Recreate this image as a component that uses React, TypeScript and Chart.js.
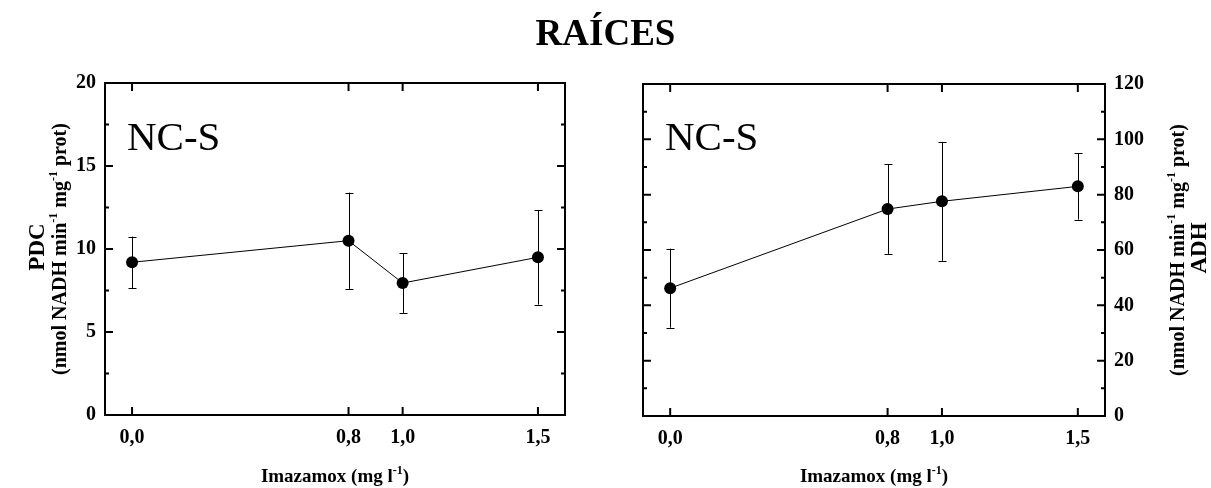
import React, { useEffect, useRef } from 'react';
import { Chart, registerables } from 'chart.js';
Chart.register(...registerables);

// ---- data ----
const doses = [0, 0.8, 1.0, 1.5];
const doseLabels = ['0,0', '0,8', '1,0', '1,5'];
const pdcMean = [9.2, 10.5, 7.95, 9.5];
const pdcErr = [1.55, 2.9, 1.8, 2.85];
const adhMean = [46.2, 74.8, 77.6, 83.0];
const adhErr = [14.3, 16.2, 21.5, 12.0];
const pdcTicks = [0, 5, 10, 15, 20];
const adhTicks = [0, 20, 40, 60, 80, 100, 120];
const titleText = 'RAÍCES';
const panelLabel = 'NC-S';
const xTitleParts = [{ t: 'Imazamox (mg l' }, { t: '-1', sup: true }, { t: ')' }];
const unitParts = [
  { t: '(nmol NADH min' }, { t: '-1', sup: true }, { t: ' mg' }, { t: '-1', sup: true }, { t: ' prot)' },
];

const FONT = '"Liberation Serif", "Times New Roman", serif';

type Part = { t: string; sup?: boolean };

function drawRich(ctx: CanvasRenderingContext2D, parts: Part[], size: number, cx: number, cy: number, rotate: boolean) {
  ctx.save();
  ctx.translate(cx, cy);
  if (rotate) ctx.rotate(-Math.PI / 2);
  const supSize = Math.round(size * 0.62);
  const widths = parts.map((p) => {
    ctx.font = `bold ${p.sup ? supSize : size}px ${FONT}`;
    return ctx.measureText(p.t).width;
  });
  const total = widths.reduce((a, b) => a + b, 0);
  let x = -total / 2;
  const base = size * 0.33;
  ctx.textAlign = 'left';
  ctx.textBaseline = 'alphabetic';
  ctx.fillStyle = '#000';
  parts.forEach((p, i) => {
    ctx.font = `bold ${p.sup ? supSize : size}px ${FONT}`;
    ctx.fillText(p.t, x, p.sup ? base - size * 0.42 : base);
    x += widths[i];
  });
  ctx.restore();
}

type PanelOpts = {
  side: 'left' | 'right';
  mean: number[];
  err: number[];
  yMax: number;
  yTicks: number[];
  minorStep: number;
  name: string;
};

function makeConfig(o: PanelOpts): any {
  const isLeft = o.side === 'left';
  const panelPlugin = {
    id: 'panel',
    beforeDatasetsDraw(chart: any) {
      const ctx = chart.ctx as CanvasRenderingContext2D;
      const xs = chart.scales.x;
      const ys = chart.scales.y;
      ctx.save();
      ctx.strokeStyle = '#000';
      ctx.lineWidth = 1;
      o.mean.forEach((m, i) => {
        const px = Math.round(xs.getPixelForValue(doses[i])) + 0.5;
        const t = ys.getPixelForValue(m + o.err[i]);
        const b = ys.getPixelForValue(m - o.err[i]);
        ctx.beginPath();
        ctx.moveTo(px, t);
        ctx.lineTo(px, b);
        ctx.moveTo(px - 4, Math.round(t) + 0.5);
        ctx.lineTo(px + 4, Math.round(t) + 0.5);
        ctx.moveTo(px - 4, Math.round(b) + 0.5);
        ctx.lineTo(px + 4, Math.round(b) + 0.5);
        ctx.stroke();
      });
      ctx.restore();
    },
    afterDraw(chart: any) {
      const ctx = chart.ctx as CanvasRenderingContext2D;
      const a = chart.chartArea;
      const xs = chart.scales.x;
      const ys = chart.scales.y;
      ctx.save();
      ctx.strokeStyle = '#000';
      ctx.lineWidth = 2;
      ctx.strokeRect(a.left, a.top, a.right - a.left, a.bottom - a.top);
      const major = 8;
      const minor = 4;
      ctx.beginPath();
      doses.forEach((d) => {
        const px = xs.getPixelForValue(d);
        ctx.moveTo(px, a.bottom);
        ctx.lineTo(px, a.bottom - major);
        ctx.moveTo(px, a.top);
        ctx.lineTo(px, a.top + major);
      });
      for (let v = 0; v <= o.yMax + 1e-9; v += o.minorStep) {
        const isMajor = o.yTicks.some((t) => Math.abs(t - v) < 1e-9);
        const len = isMajor ? major : minor;
        const py = ys.getPixelForValue(v);
        ctx.moveTo(a.left, py);
        ctx.lineTo(a.left + len, py);
        ctx.moveTo(a.right, py);
        ctx.lineTo(a.right - len, py);
      }
      ctx.stroke();
      ctx.restore();

      // panel label
      ctx.save();
      ctx.font = `41px ${FONT}`;
      ctx.fillStyle = '#000';
      ctx.textAlign = 'left';
      ctx.textBaseline = 'alphabetic';
      ctx.fillText(panelLabel, a.left + 22, 150);
      ctx.restore();

      // x title
      drawRich(ctx, xTitleParts, 19, (a.left + a.right) / 2, 476, false);

      // y titles
      const cy = (a.top + a.bottom) / 2;
      if (isLeft) {
        drawRich(ctx, [{ t: o.name }], 23, 36, cy - 2, true);
        drawRich(ctx, unitParts, 20, 59, cy, true);
      } else {
        drawRich(ctx, unitParts, 20, chart.width - 34, cy, true);
        drawRich(ctx, [{ t: o.name }], 23, chart.width - 13, cy - 2, true);
      }
    },
  };

  return {
    type: 'line',
    data: {
      datasets: [
        {
          data: doses.map((d, i) => ({ x: d, y: o.mean[i] })),
          borderColor: '#000',
          borderWidth: 1,
          pointRadius: 6,
          pointBackgroundColor: '#000',
          pointBorderColor: '#000',
          pointBorderWidth: 0,
          fill: false,
          tension: 0,
          clip: false,
        },
      ],
    },
    options: {
      animation: false,
      responsive: false,
      devicePixelRatio: 1,
      events: [],
      layout: {
        padding: isLeft
          ? { left: 0, right: 35, top: 83, bottom: 0 }
          : { left: 43, right: 0, top: 84, bottom: 0 },
      },
      plugins: { legend: { display: false }, tooltip: { enabled: false }, title: { display: false } },
      scales: {
        x: {
          type: 'linear',
          min: -0.1,
          max: 1.6,
          afterBuildTicks: (s: any) => {
            s.ticks = doses.map((v) => ({ value: v }));
          },
          afterFit: (s: any) => {
            s.height = isLeft ? 73 : 72;
          },
          ticks: {
            autoSkip: false,
            maxRotation: 0,
            padding: 11,
            color: '#000',
            font: { family: FONT, size: 20, weight: 'bold' },
            callback: (v: number) => {
              const i = doses.findIndex((d) => Math.abs(d - v) < 1e-9);
              return i >= 0 ? doseLabels[i] : '';
            },
          },
          grid: { display: false, drawTicks: false },
          border: { display: false },
        },
        y: {
          type: 'linear',
          position: o.side,
          min: 0,
          max: o.yMax,
          afterBuildTicks: (s: any) => {
            s.ticks = o.yTicks.map((v) => ({ value: v }));
          },
          afterFit: (s: any) => {
            s.width = isLeft ? 105 : 106;
          },
          ticks: {
            padding: 9,
            color: '#000',
            font: { family: FONT, size: 20, weight: 'bold' },
          },
          grid: { display: false, drawTicks: false },
          border: { display: false },
        },
      },
    },
    plugins: [panelPlugin],
  };
}

function Panel(props: { opts: PanelOpts; left: number; width: number }) {
  const ref = useRef<HTMLCanvasElement>(null);
  useEffect(() => {
    if (!ref.current) return;
    const chart = new Chart(ref.current, makeConfig(props.opts));
    return () => chart.destroy();
  }, []);
  return (
    <canvas
      ref={ref}
      width={props.width}
      height={488}
      style={{ position: 'absolute', left: props.left, top: 0, width: props.width, height: 488 }}
    />
  );
}

export default function App() {
  return (
    <div style={{ position: 'absolute', left: 0, top: 0, width: 1211, height: 488, background: '#fff' }}>
      <Panel
        left={0}
        width={600}
        opts={{ side: 'left', mean: pdcMean, err: pdcErr, yMax: 20, yTicks: pdcTicks, minorStep: 2.5, name: 'PDC' }}
      />
      <Panel
        left={600}
        width={611}
        opts={{ side: 'right', mean: adhMean, err: adhErr, yMax: 120, yTicks: adhTicks, minorStep: 10, name: 'ADH' }}
      />
      <div
        style={{
          position: 'absolute',
          left: 0,
          top: 15,
          width: 1211,
          textAlign: 'center',
          font: `bold 37px ${FONT}`,
          lineHeight: '36px',
          color: '#000',
        }}
      >
        {titleText}
      </div>
    </div>
  );
}
